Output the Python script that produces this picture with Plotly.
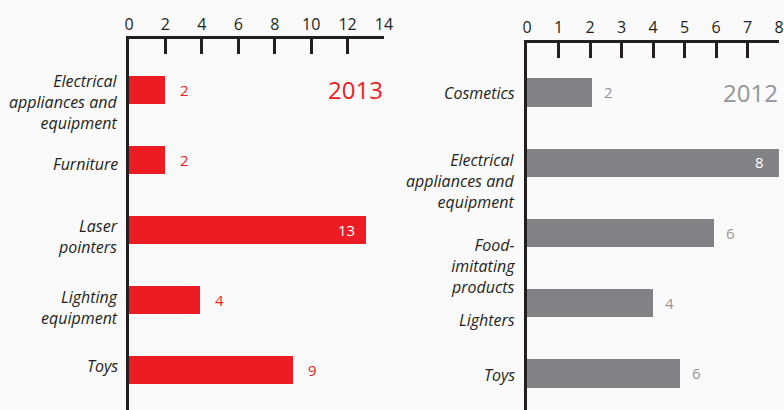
import plotly.graph_objects as go

# ---------------- data ----------------
categories_2013 = ["Electrical\nappliances and\nequipment", "Furniture", "Laser\npointers",
                   "Lighting\nequipment", "Toys"]
values_2013 = [2, 2, 13, 3.9, 9]
labels_2013 = ["2", "2", "13", "4", "9"]

categories_2012 = ["Cosmetics", "Electrical\nappliances and\nequipment", "Food-\nimitating\nproducts",
                   "Lighters", "Toys"]
values_2012 = [2.05, 8, 5.95, 4, 4.85]
labels_2012 = ["2", "8", "6", "4", "6"]

ticks_2013 = [0, 2, 4, 6, 8, 10, 12, 14]
ticks_2012 = [0, 1, 2, 3, 4, 5, 6, 7, 8]

# ---------------- style ----------------
W, H = 784, 410
BG = "#fafafa"
DARK = "#231f20"
RED = "#ed1c24"
GREY_BAR = "#808285"
GREY_TXT = "#939598"
FONT = "Open Sans"

# label vertical offsets (px, downward) relative to bar slot centre
lab_shift_2013 = [12, 4, 6, 7, -4]
lab_shift_2012 = [1, 19, 33, 17, 2]

fig = go.Figure()

panels = [
    dict(cats=categories_2013, vals=values_2013, labs=labels_2013, ticks=ticks_2013,
         color=RED, txt=RED, xa="x", ya="y", year="2013", shifts=lab_shift_2013,
         left=129, right=384, top=39, out_shift=14, in_shift=-10, lab_gap=-10),
    dict(cats=categories_2012, vals=values_2012, labs=labels_2012, ticks=ticks_2012,
         color=GREY_BAR, txt=GREY_TXT, xa="x2", ya="y2", year="2012", shifts=lab_shift_2012,
         left=527, right=779, top=42.5, out_shift=11, in_shift=-14, lab_gap=-11),
]

annotations = []
for p in panels:
    ids = list(range(len(p["cats"])))
    fig.add_trace(go.Bar(
        x=p["vals"], y=ids, orientation="h", width=0.4,
        marker=dict(color=p["color"], line=dict(width=0)),
        xaxis=p["xa"], yaxis=p["ya"], hoverinfo="skip", showlegend=False,
    ))
    vmax = max(p["vals"])
    for i, (v, t) in enumerate(zip(p["vals"], p["labs"])):
        inside = v == vmax
        annotations.append(dict(
            x=v, y=i, xref=p["xa"], yref=p["ya"], text=t, showarrow=False,
            xanchor="right" if inside else "left", yanchor="middle",
            xshift=p["in_shift"] if inside else p["out_shift"], borderpad=0,
            font=dict(family=FONT, size=15, color="white" if inside else p["txt"]),
        ))
    for i, cat in enumerate(p["cats"]):
        annotations.append(dict(
            x=p["left"] / W, y=i, xref="paper", yref=p["ya"], text=cat.replace("\n", "<br>"),
            showarrow=False, align="right", borderpad=0,
            xanchor="right", yanchor="middle", xshift=p["lab_gap"], yshift=-p["shifts"][i],
            font=dict(family=FONT, size=16, color=DARK, style="italic"),
        ))
    annotations.append(dict(
        x=p["right"] / W, y=0, xref="paper", yref=p["ya"], text=p["year"], showarrow=False,
        xanchor="right", yanchor="middle", borderpad=0,
        font=dict(family=FONT, size=24, color=p["txt"]),
    ))

def xaxis_cfg(p):
    return dict(
        domain=[p["left"] / W, p["right"] / W], range=[0, p["ticks"][-1]], side="top",
        anchor=p["ya"], tickmode="array", tickvals=p["ticks"], ticktext=[str(t) for t in p["ticks"]],
        ticks="inside", ticklen=15, tickwidth=3, tickcolor=DARK,
        showline=True, linewidth=3, linecolor=DARK, showgrid=False, zeroline=False,
        tickfont=dict(family=FONT, size=16, color=DARK), ticklabelstandoff=0,
        ticklabeloverflow="allow", automargin=False, fixedrange=True,
    )

def yaxis_cfg(p, unit, first_c, last_c):
    top_units = (first_c - p["top"]) / unit
    bot_units = (H - last_c) / unit
    n = len(p["cats"]) - 1
    return dict(
        domain=[0, (H - p["top"]) / H], range=[n + bot_units, -top_units],
        anchor=p["xa"], showline=True, linewidth=3, linecolor=DARK,
        showticklabels=False, ticks="", showgrid=False, zeroline=False,
        automargin=False, fixedrange=True,
    )

fig.update_layout(
    width=W, height=H, autosize=False,
    margin=dict(l=0, r=0, t=0, b=0, autoexpand=False),
    paper_bgcolor=BG, plot_bgcolor=BG,
    xaxis=xaxis_cfg(panels[0]), xaxis2=xaxis_cfg(panels[1]),
    yaxis=yaxis_cfg(panels[0], 70, 90, 370),
    yaxis2=yaxis_cfg(panels[1], 70.25, 92, 373),
    annotations=annotations, bargap=0,
)

fig.write_html("out.html", config={"displayModeBar": False},
               post_script="document.body.style.margin='0';document.body.style.overflow='hidden';")
